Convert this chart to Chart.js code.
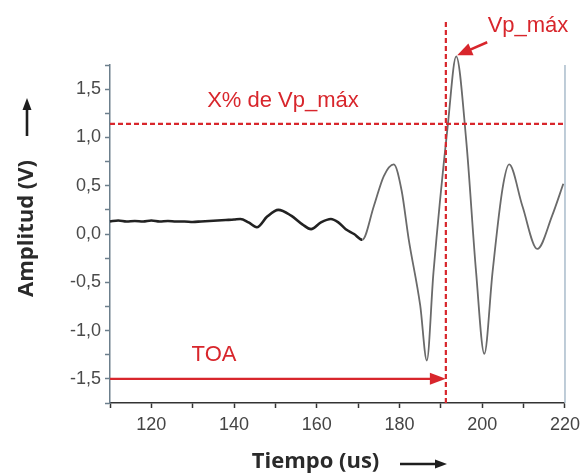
<!DOCTYPE html>
<html lang="es">
  <head>
    <meta charset="UTF-8">
    <script src="https://cdn.jsdelivr.net/npm/chart.js@4.4.0/dist/chart.umd.min.js"></script>
    <style>
      html, body { margin: 0; padding: 0; background: #fff; }
      .chart-box { width: 586px; height: 475px; position: relative; }
    </style>
  </head>
  <body>
    <div class="chart-box"><canvas id="toaChart"></canvas></div>
    <script>
      // señal (tiempo en us, amplitud en V)
      const time = [110, 112, 114, 116, 118, 120, 122, 124, 126, 128, 130, 132, 134, 136, 138, 140,
        141.5, 143.5, 145.5, 148, 150.7, 153.8, 156.5, 158.6, 161, 163.4, 165.2, 167, 169, 171,
        173.8, 176.2, 178.6, 180.5, 182.2, 185, 186.6, 188.2, 191.7, 193.7, 196.1, 198.5, 200.5,
        202.5, 204.9, 206.5, 209.7, 213.3, 216.9, 219.6];
      const amplitude = [0.13, 0.14, 0.13, 0.135, 0.13, 0.14, 0.13, 0.135, 0.13, 0.13, 0.125, 0.13, 0.135, 0.14, 0.145, 0.15,
        0.155, 0.12, 0.07, 0.18, 0.25, 0.19, 0.10, 0.05, 0.12, 0.155, 0.12, 0.05, 0.0, -0.06,
        0.29, 0.6, 0.72, 0.45, -0.05, -0.74, -1.31, -0.4, 1.14, 1.84, 0.98, -0.39, -1.24,
        -0.39, 0.47, 0.72, 0.29, -0.155, 0.19, 0.52];

      // marcas de la anotación
      const toaTime = 191.2;
      const thresholdLevel = 1.14;
      const toaLevel = -1.5;
      const peakTime = 193.7;
      const peakAmp = 1.84;

      const RED = '#d8262c';

      function arrowHead(ctx, x1, y1, x2, y2, len, half) {
        const a = Math.atan2(y2 - y1, x2 - x1);
        ctx.beginPath();
        ctx.moveTo(x2, y2);
        ctx.lineTo(x2 - len * Math.cos(a) + half * Math.sin(a), y2 - len * Math.sin(a) - half * Math.cos(a));
        ctx.lineTo(x2 - len * Math.cos(a) - half * Math.sin(a), y2 - len * Math.sin(a) + half * Math.cos(a));
        ctx.closePath();
        ctx.fill();
      }

      function arrow(ctx, x1, y1, x2, y2, color, width, len, half) {
        const a = Math.atan2(y2 - y1, x2 - x1);
        ctx.strokeStyle = color;
        ctx.fillStyle = color;
        ctx.lineWidth = width;
        ctx.beginPath();
        ctx.moveTo(x1, y1);
        ctx.lineTo(x2 - (len - 2) * Math.cos(a), y2 - (len - 2) * Math.sin(a));
        ctx.stroke();
        arrowHead(ctx, x1, y1, x2, y2, len, half);
      }

      const annotations = {
        id: 'annotations',
        afterDatasetsDraw(chart) {
          const {ctx, chartArea: ca, scales: {x, y}} = chart;
          ctx.save();

          // borde derecho
          ctx.strokeStyle = '#a9bccb';
          ctx.lineWidth = 1.5;
          ctx.beginPath();
          ctx.moveTo(ca.right, ca.top);
          ctx.lineTo(ca.right, ca.bottom);
          ctx.stroke();

          // umbral X% de Vp_max
          const yThr = y.getPixelForValue(thresholdLevel);
          ctx.strokeStyle = RED;
          ctx.lineWidth = 2.2;
          ctx.setLineDash([5, 3]);
          ctx.beginPath();
          ctx.moveTo(ca.left, yThr);
          ctx.lineTo(ca.right, yThr);
          ctx.stroke();

          // instante TOA
          const xToa = x.getPixelForValue(toaTime);
          ctx.beginPath();
          ctx.moveTo(xToa, 22);
          ctx.lineTo(xToa, ca.bottom);
          ctx.stroke();
          ctx.setLineDash([]);

          // flecha TOA
          const yToa = y.getPixelForValue(toaLevel);
          arrow(ctx, ca.left, yToa, xToa, yToa, RED, 2.4, 16, 6);

          // flecha Vp_max
          const px = x.getPixelForValue(peakTime), py = y.getPixelForValue(peakAmp);
          arrow(ctx, px + 31, py - 14, px + 1, py - 1, RED, 2.6, 15, 6.5);

          ctx.fillStyle = RED;
          ctx.font = '22px "Liberation Sans", Arial, sans-serif';
          ctx.textAlign = 'center';
          ctx.textBaseline = 'middle';
          ctx.fillText('TOA', 214, 355);
          ctx.fillText('X% de Vp_máx', 283, 101);
          ctx.fillText('Vp_máx', 528, 26);

          // flechas de los títulos de los ejes
          arrow(ctx, 400, 464, 447, 464, '#1e1e1e', 2.6, 12, 4.5);
          arrow(ctx, 27, 136, 27, 98, '#1e1e1e', 2.6, 12, 4.5);
          ctx.restore();
        }
      };

      new Chart(document.getElementById('toaChart'), {
        type: 'line',
        data: {
          datasets: [{
            data: time.map((t, i) => ({x: t, y: amplitude[i]})),
            borderColor: '#222',
            borderWidth: 2.6,
            pointRadius: 0,
            cubicInterpolationMode: 'monotone',
            clip: false,
            segment: {
              borderColor: c => c.p0.parsed.x >= 171 ? '#6a6a6a' : '#222',
              borderWidth: c => c.p0.parsed.x >= 171 ? 1.8 : 2.6
            }
          }]
        },
        options: {
          responsive: true,
          maintainAspectRatio: false,
          animation: false,
          layout: { padding: { top: 65, right: 16, left: 0, bottom: 0 } },
          plugins: { legend: { display: false }, tooltip: { enabled: false } },
          scales: {
            x: {
              type: 'linear',
              min: 110,
              max: 220,
              afterFit: s => { s.height = 72; },
              grid: { drawOnChartArea: false, tickLength: 5, tickColor: '#333', tickWidth: 1.5 },
              border: { color: '#333', width: 1.5 },
              ticks: {
                stepSize: 10,
                autoSkip: false,
                maxRotation: 0,
                padding: 6,
                color: '#444',
                font: { size: 18, family: '"Liberation Sans", Arial, sans-serif' },
                callback: v => (v % 20 === 0 ? String(v) : '')
              },
              title: {
                display: true,
                text: 'Tiempo (us)\u2003\u2003',
                color: '#2a2a2a',
                padding: { top: 0, bottom: 0 },
                font: { size: 22, weight: 'bold', family: '"Open Sans", "Liberation Sans", sans-serif' }
              }
            },
            y: {
              min: -1.75,
              max: 1.75,
              afterFit: s => { s.width = 110; },
              grid: { drawOnChartArea: false, tickLength: 5, tickColor: '#6c7f8c', tickWidth: 1.5 },
              border: { color: '#6c7f8c', width: 1.5 },
              ticks: {
                stepSize: 0.25,
                autoSkip: false,
                padding: 4,
                color: '#4a4a4a',
                font: { size: 18, family: '"Liberation Sans", Arial, sans-serif' },
                callback: v => (Math.abs(v * 2 - Math.round(v * 2)) < 1e-6 ? v.toFixed(1).replace('.', ',') : '')
              },
              title: {
                display: true,
                text: '\u2002Amplitud (V)',
                color: '#2a2a2a',
                padding: { top: 14, bottom: 0 },
                font: { size: 22, weight: 'bold', family: '"Open Sans", "Liberation Sans", sans-serif' }
              }
            }
          }
        },
        plugins: [annotations]
      });
    </script>
  </body>
</html>
